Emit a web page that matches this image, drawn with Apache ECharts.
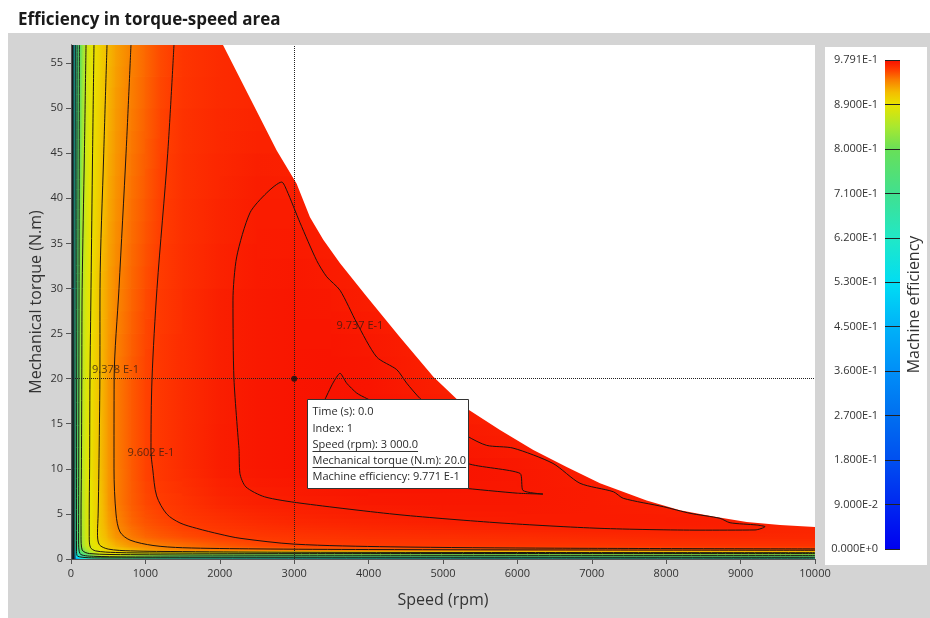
<!DOCTYPE html>
<html>
<head>
<meta charset="utf-8">
<title>Efficiency in torque-speed area</title>
<script src="https://cdn.jsdelivr.net/npm/echarts@6/dist/echarts.min.js"></script>
<style>
  html, body { margin: 0; padding: 0; background: #fff; }
  .stage { position: relative; width: 930px; height: 618px; overflow: hidden; }
  .panel { position: absolute; left: 8px; top: 33px; width: 922px; height: 585px; background: #d4d4d4; }
  .legend-box { position: absolute; left: 825px; top: 47px; width: 102px; height: 518px; background: #fff; }
  #chart { position: absolute; left: 0; top: 0; width: 930px; height: 618px; }
</style>
</head>
<body>
<div class="stage">
  <div class="panel"></div>
  <div class="legend-box"></div>
  <div id="chart"></div>
</div>
<script>
const FONT = '"Open Sans", "DejaVu Sans", sans-serif'

// grid nodes of the efficiency map
const speeds = [0, 25, 50, 75, 100, 125, 150, 200, 250, 300, 400, 500, 600, 800, 1000, 1200, 1500, 2000, 2500, 3000, 3500, 4000, 5000, 6000, 7000, 8000, 9000, 10000]
const torques = [0, 0.3, 0.6, 1, 1.5, 2.5, 4, 6, 10, 15, 20, 30, 40, 50, 57]

// efficiency[j][i] : torque torques[j], speed speeds[i]
const efficiency = [
  [0.10, 0.20, 0.30, 0.38, 0.44, 0.48, 0.52, 0.56, 0.60, 0.62, 0.64, 0.66, 0.66, 0.65, 0.63, 0.62, 0.60, 0.58, 0.56, 0.55, 0.55, 0.55, 0.55, 0.56, 0.58, 0.60, 0.60, 0.60],
  [0.18, 0.32, 0.45, 0.55, 0.60, 0.64, 0.68, 0.72, 0.76, 0.80, 0.84, 0.86, 0.85, 0.83, 0.80, 0.78, 0.76, 0.74, 0.73, 0.72, 0.72, 0.72, 0.72, 0.73, 0.74, 0.75, 0.75, 0.75],
  [0.20, 0.36, 0.50, 0.60, 0.66, 0.70, 0.74, 0.78, 0.82, 0.85, 0.88, 0.895, 0.89, 0.88, 0.875, 0.87, 0.86, 0.85, 0.84, 0.84, 0.84, 0.84, 0.84, 0.84, 0.84, 0.84, 0.84, 0.84],
  [0.22, 0.40, 0.56, 0.66, 0.72, 0.77, 0.80, 0.84, 0.86, 0.875, 0.89, 0.90, 0.905, 0.915, 0.925, 0.932, 0.937, 0.940, 0.942, 0.944, 0.945, 0.946, 0.947, 0.948, 0.949, 0.950, 0.950, 0.950],
  [0.25, 0.44, 0.60, 0.70, 0.76, 0.80, 0.835, 0.866, 0.878, 0.886, 0.898, 0.910, 0.919, 0.930, 0.935, 0.939, 0.944, 0.951, 0.956, 0.959, 0.960, 0.961, 0.962, 0.963, 0.963, 0.964, 0.964, 0.964],
  [0.25, 0.46, 0.62, 0.72, 0.77, 0.81, 0.84, 0.872, 0.884, 0.892, 0.907, 0.920, 0.930, 0.940, 0.947, 0.951, 0.955, 0.9595, 0.9615, 0.963, 0.964, 0.965, 0.966, 0.967, 0.968, 0.9685, 0.969, 0.969],
  [0.25, 0.47, 0.63, 0.72, 0.78, 0.815, 0.845, 0.874, 0.886, 0.894, 0.910, 0.925, 0.935, 0.946, 0.9525, 0.956, 0.9605, 0.964, 0.967, 0.969, 0.970, 0.971, 0.9725, 0.974, 0.9745, 0.9745, 0.9735, 0.971],
  [0.25, 0.48, 0.64, 0.73, 0.785, 0.82, 0.848, 0.876, 0.887, 0.895, 0.911, 0.928, 0.938, 0.949, 0.956, 0.960, 0.9635, 0.969, 0.972, 0.9733, 0.9742, 0.975, 0.9758, 0.9755, 0.9745, 0.9725, 0.971, 0.970],
  [0.25, 0.49, 0.65, 0.74, 0.79, 0.825, 0.852, 0.878, 0.889, 0.898, 0.914, 0.929, 0.939, 0.950, 0.9585, 0.9625, 0.967, 0.9735, 0.9762, 0.9773, 0.978, 0.9785, 0.9784, 0.976, 0.973, 0.971, 0.970, 0.970],
  [0.25, 0.49, 0.65, 0.74, 0.79, 0.825, 0.853, 0.879, 0.889, 0.898, 0.915, 0.929, 0.939, 0.950, 0.958, 0.962, 0.967, 0.9732, 0.976, 0.9772, 0.978, 0.9785, 0.975, 0.972, 0.971, 0.970, 0.970, 0.970],
  [0.25, 0.49, 0.65, 0.74, 0.79, 0.825, 0.853, 0.879, 0.889, 0.898, 0.915, 0.929, 0.939, 0.950, 0.958, 0.9625, 0.967, 0.9728, 0.9758, 0.9771, 0.9779, 0.9772, 0.972, 0.971, 0.970, 0.970, 0.970, 0.970],
  [0.25, 0.48, 0.64, 0.73, 0.785, 0.82, 0.85, 0.877, 0.888, 0.896, 0.915, 0.926, 0.935, 0.946, 0.955, 0.961, 0.966, 0.972, 0.9748, 0.976, 0.975, 0.973, 0.971, 0.970, 0.970, 0.970, 0.970, 0.970],
  [0.25, 0.47, 0.62, 0.72, 0.775, 0.81, 0.84, 0.873, 0.886, 0.894, 0.910, 0.922, 0.931, 0.943, 0.951, 0.959, 0.965, 0.970, 0.9738, 0.9735, 0.972, 0.971, 0.970, 0.970, 0.970, 0.970, 0.970, 0.970],
  [0.25, 0.46, 0.61, 0.71, 0.765, 0.80, 0.83, 0.869, 0.882, 0.891, 0.905, 0.918, 0.928, 0.939, 0.948, 0.957, 0.964, 0.968, 0.970, 0.970, 0.970, 0.970, 0.970, 0.970, 0.970, 0.970, 0.970, 0.970],
  [0.25, 0.45, 0.60, 0.70, 0.755, 0.79, 0.82, 0.867, 0.880, 0.889, 0.903, 0.916, 0.925, 0.9375, 0.946, 0.955, 0.9625, 0.967, 0.969, 0.970, 0.970, 0.970, 0.970, 0.970, 0.970, 0.970, 0.970, 0.970]
]

// max torque curve (above it the map is empty)
const envelope = [[0, 57], [2043, 57], [2765, 45.3], [3033, 41.6], [3212, 37.9], [3391, 35.4], [3616, 32.8], [3974, 29.1], [4422, 24.6], [4870, 20.2], [5318, 16.7], [5766, 14.3], [6214, 12.1], [6662, 10.2], [7110, 8.4], [7737, 6.5], [8185, 5.4], [8633, 4.7], [9082, 4.1], [9530, 3.77], [10000, 3.55]]

// iso-efficiency lines
const contour9771 = [[3414, 17.7], [3520, 19.5], [3616, 20.6], [3705, 19.5], [3840, 18.4], [3974, 17.8], [4300, 16.5], [4800, 13.5], [5331, 10.6], [6035, 9.5], [6075, 7.6], [6344, 7.2], [6000, 7.3], [5228, 7.9], [4500, 8.6], [3900, 10.5], [3500, 14], [3414, 17.7]]
const contour9737 = [[2260, 12], [2190, 20], [2177, 28.7], [2227, 33.5], [2406, 38.4], [2630, 40.6], [2832, 41.8], [2899, 40.9], [3078, 37.3], [3302, 33.1], [3437, 31.3], [3616, 29.8], [3840, 26.2], [4109, 22.4], [4378, 21.0], [4512, 19.5], [4691, 17.8], [5000, 15.5], [5331, 13.6], [5587, 12.6], [5941, 12.3], [6478, 10.6], [6841, 8.4], [7289, 7.46], [7423, 6.73], [7961, 5.8], [8320, 5.07], [8723, 4.51], [8858, 4.02], [9216, 3.77], [9328, 3.58], [9194, 3.22], [8454, 3.2], [7110, 3.4], [5766, 4.0], [4422, 4.9], [3078, 6.2], [2600, 6.9], [2350, 8], [2270, 9.5], [2260, 12]]
const contour9602 = [[1384, 57], [1300, 45], [1156, 30], [1089, 20], [1075, 12], [1098, 10], [1151, 7], [1286, 5], [1465, 4], [1689, 3.4], [2003, 2.75], [2271, 2.3], [3000, 1.65], [4300, 1.35], [6500, 1.2], [10000, 1.12]]
const contour9378 = [[806, 57], [740, 45], [645, 30], [580, 20], [578, 10], [605, 5], [659, 3], [793, 2.1], [1102, 1.5], [1500, 1.25], [2500, 1.12], [4000, 1.05], [7000, 1.0], [10000, 0.97]]
const contour9153 = [[484, 57], [440, 45], [390, 30], [388, 20], [375, 10], [365, 5], [356, 2.9], [380, 1.6], [500, 1.1], [800, 0.9], [1500, 0.82], [3000, 0.75], [6000, 0.72], [10000, 0.7]]
const contour8930 = [[309, 57], [290, 45], [269, 30], [255, 20], [250, 10], [245, 5], [245, 2.5], [260, 1.3], [330, 0.9], [600, 0.72], [1200, 0.66], [3000, 0.62], [10000, 0.6]]
const contour8700 = [[202, 57], [180, 45], [150, 30], [145, 20], [140, 10], [135, 5], [135, 2.5], [150, 1.0], [250, 0.6], [800, 0.48], [3000, 0.42], [10000, 0.4]]
const contour8000 = [[112, 57], [108, 30], [104, 10], [102, 2], [120, 0.6], [300, 0.3], [1200, 0.22], [10000, 0.2]]
const contour7100 = [[82, 57], [78, 30], [75, 10], [74, 1], [90, 0.3], [400, 0.12], [10000, 0.1]]
const contour6200 = [[58, 57], [55, 30], [52, 10], [52, 0]]
const contour5300 = [[38, 57], [36, 30], [34, 0]]
const contour4500 = [[20, 57], [19, 30], [18, 0]]

const contourLabels = [
  { name: '9.378 E-1', value: [598, 20.95] },
  { name: '9.602 E-1', value: [1075, 11.75] },
  { name: '9.737 E-1', value: [3884, 25.8] }
]

// colour scale (value -> colour)
const colorStops = [
  [0, '#0000f0'], [0.09, '#0028f0'], [0.18, '#0050f0'], [0.27, '#0070f0'],
  [0.36, '#0090f8'], [0.45, '#00b4f8'], [0.53, '#00dcf4'], [0.62, '#20e8c8'],
  [0.71, '#40e090'], [0.80, '#68e058'], [0.845, '#a8e830'], [0.89, '#e8e400'],
  [0.915, '#f4bc00'], [0.94, '#fa7c00'], [0.96, '#ff3c00'], [0.9791, '#f81000']
]
const effMax = 0.9791
const scaleLabels = ['0.000E+0', '9.000E-2', '1.800E-1', '2.700E-1', '3.600E-1', '4.500E-1', '5.300E-1', '6.200E-1', '7.100E-1', '8.000E-1', '8.900E-1', '9.791E-1']

const cursorPoint = [3000, 20]
const tipLines = ['Time (s): 0.0', 'Index: 1', 'Speed (rpm): 3 000.0', 'Mechanical torque (N.m): 20.0', 'Machine efficiency: 9.771 E-1']
const tipUnderlined = [false, false, true, true, false]

// ---- helpers ----
const stopRgb = colorStops.map(([v, c]) => [v, parseInt(c.slice(1, 3), 16), parseInt(c.slice(3, 5), 16), parseInt(c.slice(5, 7), 16)])

function rgbStr(c) {
  return 'rgb(' + Math.round(c[1]) + ',' + Math.round(c[2]) + ',' + Math.round(c[3]) + ')'
}
function colorAt(v) {
  if (v <= stopRgb[0][0]) return rgbStr(stopRgb[0])
  for (let k = 1; k < stopRgb.length; k++) {
    const a = stopRgb[k - 1], b = stopRgb[k]
    if (v <= b[0]) {
      const f = (v - a[0]) / (b[0] - a[0])
      return rgbStr([0, a[1] + (b[1] - a[1]) * f, a[2] + (b[2] - a[2]) * f, a[3] + (b[3] - a[3]) * f])
    }
  }
  return rgbStr(stopRgb[stopRgb.length - 1])
}
// horizontal shading between two values, following the colour scale knots
function shade(vl, vr) {
  if (Math.abs(vr - vl) < 1e-7) return colorAt(vl)
  const stops = [{ offset: 0, color: colorAt(vl) }]
  const lo = Math.min(vl, vr), hi = Math.max(vl, vr)
  colorStops.forEach(([v]) => {
    if (v > lo && v < hi) stops.push({ offset: (v - vl) / (vr - vl), color: colorAt(v) })
  })
  stops.push({ offset: 1, color: colorAt(vr) })
  stops.sort((a, b) => a.offset - b.offset)
  return { type: 'linear', x: 0, y: 0, x2: 1, y2: 0, colorStops: stops }
}

const cells = []
for (let j = 0; j < torques.length - 1; j++) {
  for (let i = 0; i < speeds.length - 1; i++) {
    cells.push([speeds[i], torques[j], speeds[i + 1], torques[j + 1],
      efficiency[j][i], efficiency[j][i + 1], efficiency[j + 1][i], efficiency[j + 1][i + 1]])
  }
}

function renderCell(params, api) {
  const p0 = api.coord([api.value(0), api.value(1)])
  const p1 = api.coord([api.value(2), api.value(3)])
  const v00 = api.value(4), v10 = api.value(5), v01 = api.value(6), v11 = api.value(7)
  const x = p0[0], w = p1[0] - p0[0]
  const yb = p0[1], h = p0[1] - p1[1]
  const dv = Math.max(Math.abs(v01 - v00), Math.abs(v11 - v10))
  const n = Math.max(1, Math.min(Math.ceil(h / 1.5), Math.ceil(dv / 0.0012)))
  const children = []
  for (let k = 0; k < n; k++) {
    const f = (k + 0.5) / n
    const vl = v00 + (v01 - v00) * f
    const vr = v10 + (v11 - v10) * f
    const yk = yb - h * (k + 1) / n
    children.push({
      type: 'rect',
      shape: { x: x - 0.4, y: yk - 0.4, width: w + 0.8, height: h / n + 0.8 },
      style: { fill: shade(vl, vr) },
      silent: true
    })
  }
  return { type: 'group', children }
}

function renderScale(params, api) {
  const top = api.coord([0, api.value(1)])
  const bot = api.coord([1, api.value(0)])
  const stops = colorStops.map(([v, c]) => ({ offset: 1 - v / effMax, color: c })).reverse()
  return {
    type: 'rect',
    shape: { x: top[0], y: top[1], width: bot[0] - top[0], height: bot[1] - top[1] },
    style: { fill: { type: 'linear', x: 0, y: 0, x2: 0, y2: 1, colorStops: stops } }
  }
}

// hover box drawn next to the cursor point
const TIP_FONT = 11
const measure = document.createElement('canvas').getContext('2d')
measure.font = TIP_FONT + 'px ' + FONT
function renderTip(params, api) {
  const p = api.coord([api.value(0), api.value(1)])
  const bx = Math.round(p[0] + 12.5) + 0.5
  const by = Math.round(p[1] + 20.4) + 0.5
  const children = [{
    type: 'rect',
    shape: { x: bx, y: by, width: 161, height: 89 },
    style: { fill: '#fff', stroke: '#333', lineWidth: 1 }
  }]
  tipLines.forEach((line, i) => {
    const cy = by + 12.7 + i * 16.2
    children.push({
      type: 'text', x: bx + 5, y: cy,
      style: { text: line, fontSize: TIP_FONT, fontFamily: FONT, fill: '#2a2a2a', verticalAlign: 'middle', align: 'left' }
    })
    if (tipUnderlined[i]) {
      const w = measure.measureText(line).width
      const uy = Math.round(cy + 6) + 0.5
      children.push({
        type: 'line',
        shape: { x1: bx + 5, y1: uy, x2: bx + 5 + w, y2: uy },
        style: { stroke: '#333', lineWidth: 1 }
      })
    }
  })
  return { type: 'group', children }
}

function contourSeries(data, smooth) {
  return {
    type: 'line',
    data,
    xAxisIndex: 0,
    yAxisIndex: 0,
    showSymbol: false,
    symbol: 'none',
    smooth: smooth,
    silent: true,
    clip: true,
    z: 4,
    lineStyle: { color: '#1c1410', width: 1 },
    emphasis: { disabled: true }
  }
}

const axisText = { fontSize: 11, color: '#333', fontFamily: FONT }
const nameText = { fontSize: 16, color: '#333', fontFamily: FONT }

const chart = echarts.init(document.getElementById('chart'), null, { renderer: 'canvas' })

chart.setOption({
  animation: false,
  backgroundColor: 'transparent',
  title: {
    text: 'Efficiency in torque-speed area',
    left: 13,
    top: 7,
    textStyle: { fontSize: 17, fontWeight: 'bold', color: '#1a1a1a', fontFamily: FONT }
  },
  grid: [
    { left: 71, top: 45, width: 744, height: 514, show: true, backgroundColor: '#fff', borderWidth: 0, outerBoundsMode: 'none' },
    { left: 885, top: 60, width: 15, height: 489, show: false, outerBoundsMode: 'none' }
  ],
  xAxis: [
    {
      gridIndex: 0, type: 'value', min: 0, max: 10000, interval: 1000, z: 10,
      axisLine: { show: true, lineStyle: { color: '#555', width: 1 } },
      axisTick: { show: true, length: 5, lineStyle: { color: '#555' } },
      axisLabel: Object.assign({ margin: 9, formatter: v => String(v) }, axisText),
      splitLine: { show: false },
      name: 'Speed (rpm)', nameLocation: 'middle', nameGap: 33, nameTextStyle: nameText
    },
    {
      gridIndex: 0, type: 'value', min: 0, max: 10000, position: 'top', z: 10,
      axisLine: { show: true, lineStyle: { color: '#555', width: 1 } },
      axisTick: { show: false }, axisLabel: { show: false }, splitLine: { show: false }
    },
    { gridIndex: 1, type: 'value', min: 0, max: 1, show: false }
  ],
  yAxis: [
    {
      gridIndex: 0, type: 'value', min: 0, max: 57, interval: 5, z: 10,
      axisLine: { show: true, lineStyle: { color: '#555', width: 1 } },
      axisTick: { show: true, length: 5, lineStyle: { color: '#555' } },
      axisLabel: Object.assign({ margin: 8, showMaxLabel: false, formatter: v => (v % 5 === 0 ? String(v) : '') }, axisText),
      splitLine: { show: false },
      name: 'Mechanical torque (N.m)', nameLocation: 'middle', nameGap: 27, nameRotate: 90,
      nameMoveOverlap: false, nameTextStyle: nameText
    },
    {
      gridIndex: 0, type: 'value', min: 0, max: 57, position: 'right', z: 10,
      axisLine: { show: true, lineStyle: { color: '#555', width: 1 } },
      axisTick: { show: false }, axisLabel: { show: false }, splitLine: { show: false }
    },
    {
      gridIndex: 1, type: 'value', min: 0, max: effMax, interval: effMax / 11, position: 'left', z: 10,
      axisLine: { show: false },
      axisTick: { show: true, inside: true, length: 15, lineStyle: { color: '#222', width: 1 } },
      axisLabel: Object.assign({
        margin: 7,
        showMinLabel: true,
        showMaxLabel: true,
        formatter: v => scaleLabels[Math.round(v / (effMax / 11))] || ''
      }, axisText),
      splitLine: { show: false }
    },
    {
      gridIndex: 1, type: 'value', min: 0, max: effMax, position: 'right',
      axisLine: { show: false }, axisTick: { show: false }, axisLabel: { show: false }, splitLine: { show: false },
      name: 'Machine efficiency', nameLocation: 'middle', nameRotate: 90, nameGap: 6, nameTextStyle: nameText
    }
  ],
  series: [
    {
      type: 'custom',
      xAxisIndex: 0, yAxisIndex: 0,
      renderItem: renderCell,
      data: cells,
      encode: { x: [0, 2], y: [1, 3] },
      clip: true,
      silent: true,
      progressive: 0,
      z: 1
    },
    {
      type: 'line',
      xAxisIndex: 0, yAxisIndex: 0,
      data: envelope,
      symbol: 'none',
      silent: true,
      z: 2,
      lineStyle: { width: 0, opacity: 0 },
      areaStyle: { color: '#fff', opacity: 1, origin: 'end' }
    },
    contourSeries(contour4500, false),
    contourSeries(contour5300, false),
    contourSeries(contour6200, false),
    contourSeries(contour7100, 0.3),
    contourSeries(contour8000, 0.3),
    contourSeries(contour8700, 0.3),
    contourSeries(contour8930, 0.3),
    contourSeries(contour9153, 0.3),
    contourSeries(contour9378, 0.3),
    contourSeries(contour9602, 0.3),
    contourSeries(contour9737, 0.25),
    contourSeries(contour9771, 0.2),
    {
      type: 'scatter',
      xAxisIndex: 0, yAxisIndex: 0,
      data: contourLabels,
      symbolSize: 1,
      itemStyle: { color: 'rgba(0,0,0,0)' },
      silent: true,
      z: 5,
      labelLayout: { hideOverlap: false },
      label: { show: true, position: 'inside', formatter: '{b}', fontSize: 11, color: '#2e1c12', fontFamily: FONT }
    },
    {
      type: 'scatter',
      xAxisIndex: 0, yAxisIndex: 0,
      data: [cursorPoint],
      symbolSize: 6,
      itemStyle: { color: '#111' },
      silent: true,
      z: 6,
      markLine: {
        silent: true,
        symbol: 'none',
        label: { show: false },
        lineStyle: { type: 'dotted', color: '#222', width: 1 },
        data: [{ xAxis: cursorPoint[0] }, { yAxis: cursorPoint[1] }]
      }
    },
    {
      type: 'custom',
      xAxisIndex: 0, yAxisIndex: 0,
      renderItem: renderTip,
      data: [cursorPoint],
      clip: false,
      silent: true,
      z: 20
    },
    {
      type: 'custom',
      xAxisIndex: 2, yAxisIndex: 2,
      renderItem: renderScale,
      data: [[0, effMax]],
      encode: { x: -1, y: [0, 1] },
      silent: true,
      z: 2
    }
  ]
})
</script>
</body>
</html>
